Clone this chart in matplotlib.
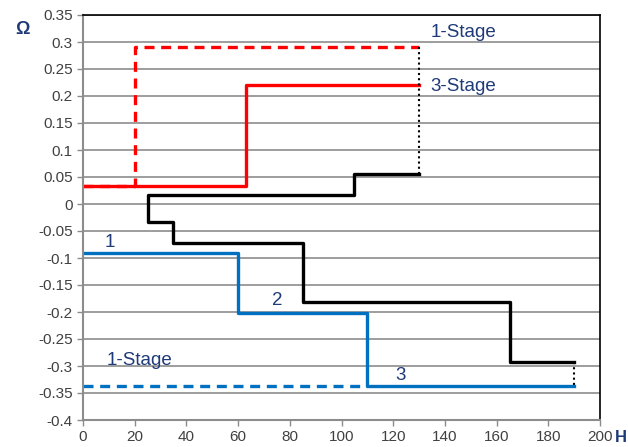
import matplotlib.pyplot as plt

plt.rcParams['font.family'] = ['Liberation Sans', 'DejaVu Sans']

# step profiles: x breakpoints and levels
red_1stage_x = [0, 20, 20, 130]
red_1stage_y = [0.033, 0.033, 0.29, 0.29]
red_3stage_x = [0, 63, 63, 130]
red_3stage_y = [0.033, 0.033, 0.22, 0.22]
black_x = [130, 105, 105, 25, 25, 35, 35, 85, 85, 165, 165, 190]
black_y = [0.056, 0.056, 0.016, 0.016, -0.034, -0.034, -0.072, -0.072, -0.182, -0.182, -0.293, -0.293]
blue_1stage_x = [0, 110]
blue_1stage_y = [-0.337, -0.337]
blue_3stage_x = [0, 60, 60, 110, 110, 190]
blue_3stage_y = [-0.09, -0.09, -0.202, -0.202, -0.337, -0.337]

navy = '#1f3a78'
red = '#ff0000'
blue = '#0070c0'

fig = plt.figure(figsize=(6.28, 4.47), dpi=100)
ax = fig.add_axes([83 / 628, 27 / 447, 517 / 628, 405 / 447])

ax.set_xlim(0, 200)
ax.set_ylim(-0.4, 0.35)
ax.set_xticks(range(0, 201, 20))
ax.set_yticks([i * 0.05 - 0.4 for i in range(16)])
ax.set_yticklabels(['%g' % round(i * 0.05 - 0.4, 2) for i in range(16)])
ax.grid(axis='y', color='#8c8c8c', lw=1.2)
ax.set_axisbelow(True)
ax.tick_params(labelsize=11, colors='#404040', length=4, color='#8c8c8c', width=1)

for side in ['top', 'right']:
    ax.spines[side].set_color('black')
    ax.spines[side].set_linewidth(1.2)
for side in ['left', 'bottom']:
    ax.spines[side].set_color('#8c8c8c')
    ax.spines[side].set_linewidth(1.5)

lw = 2.4
ax.plot(red_1stage_x, red_1stage_y, color=red, lw=lw, ls=(0, (3, 2)))
ax.plot(red_3stage_x, red_3stage_y, color=red, lw=lw)
ax.plot(black_x, black_y, color='black', lw=lw)
ax.plot(blue_1stage_x, blue_1stage_y, color=blue, lw=lw, ls=(0, (3, 2)))
ax.plot(blue_3stage_x, blue_3stage_y, color=blue, lw=lw)

# dotted connectors at the right ends
ax.plot([130, 130], [black_y[0], red_1stage_y[-1]], color='black', lw=1.5, ls=(0, (1, 1.5)))
ax.plot([190, 190], [black_y[-1], blue_3stage_y[-1]], color='black', lw=1.5, ls=(0, (1, 1.5)))

txt = dict(color=navy, fontsize=13.5)
ax.text(134.5, 0.318, '1-Stage', va='center', **txt)
ax.text(134.5, 0.217, '3-Stage', va='center', **txt)
ax.text(10.4, -0.072, '1', ha='center', va='center', **txt)
ax.text(75, -0.178, '2', ha='center', va='center', **txt)
ax.text(123, -0.318, '3', ha='center', va='center', **txt)
ax.text(9.3, -0.289, '1-Stage', va='center', **txt)

fig.text(22 / 628, 1 - 30 / 447, 'Ω', color=navy, fontsize=13, fontweight='bold', ha='center', va='center')
fig.text(621 / 628, 1 - 437 / 447, 'H', color=navy, fontsize=12, fontweight='bold', ha='center', va='center')

fig.savefig('out.png', dpi=100)
